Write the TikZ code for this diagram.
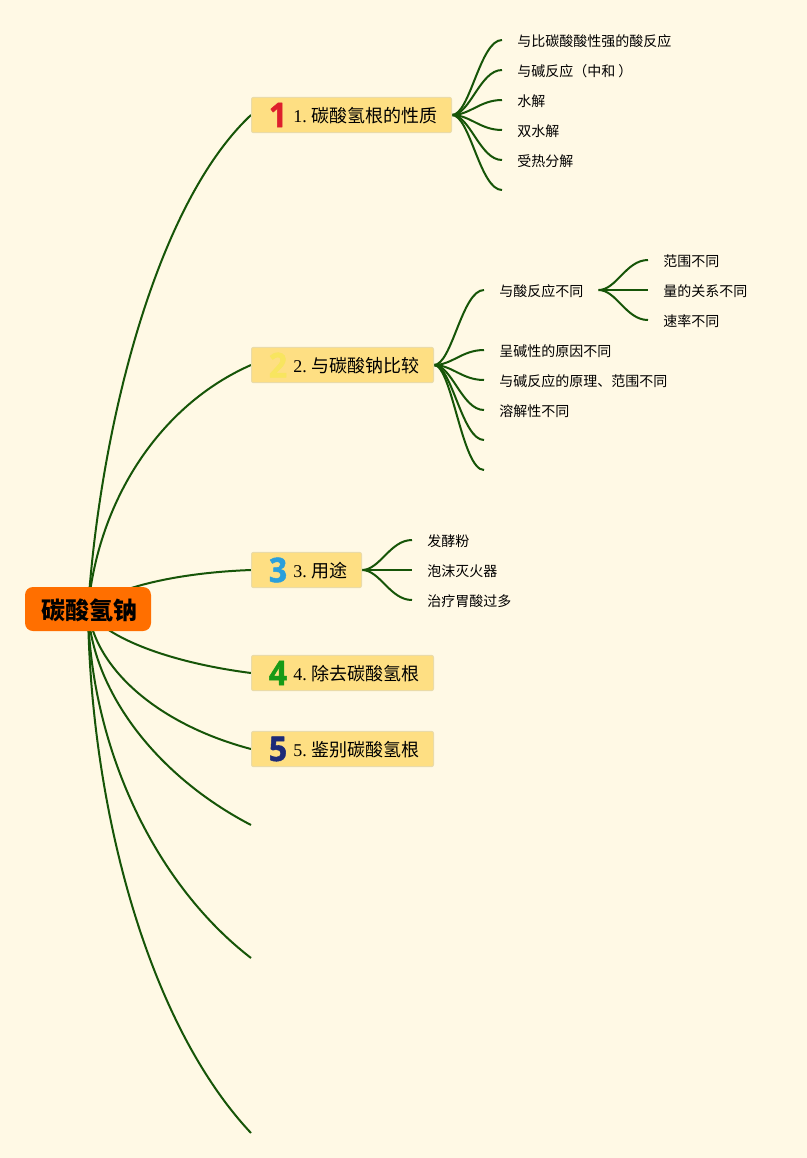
\documentclass[tikz,border=0pt]{standalone}
\usepackage{fontspec}
\setmainfont{Liberation Serif}
\newfontfamily\cjk{Noto Sans CJK SC}
\newfontfamily\numfont[FakeStretch=0.94,BoldFeatures={FakeBold=1.5}]{Open Sans}
\usepackage{tikz}
\usetikzlibrary{backgrounds}
\definecolor{paper}{HTML}{FFF9E5}
\definecolor{limbgreen}{HTML}{165508}
\definecolor{rootorange}{HTML}{FF6F00}
\definecolor{topicfill}{HTML}{FEDF83}
\definecolor{topicedge}{HTML}{EADBA8}
\definecolor{numred}{HTML}{DE1F2C}
\definecolor{numyellow}{HTML}{F8E55F}
\definecolor{numblue}{HTML}{2A9FDC}
\definecolor{numgreen}{HTML}{179A16}
\definecolor{numnavy}{HTML}{1C2A78}
\tikzset{
  limb/.style={draw=limbgreen,line width=1.5pt},
  rootbox/.style={fill=rootorange,rounded corners=6pt,minimum width=94.5pt,minimum height=33pt,inner sep=0pt,text height=16pt,text depth=0pt,font=\cjk\bfseries\fontsize{18}{20}\selectfont},
  topicbox/.style={anchor=west,fill=topicfill,draw=topicedge,line width=0.75pt,rounded corners=1.5pt,minimum height=26.5pt,inner sep=0pt},
  topictext/.style={anchor=west,inner sep=0pt,font=\fontsize{13.5}{16}\selectfont},
  numicon/.style={inner sep=0pt,font=\numfont\bfseries\fontsize{25.5}{28}\selectfont},
  leaf/.style={anchor=west,inner ysep=0pt,inner xsep=11.25pt,text height=10.5pt,text depth=1pt,font=\cjk\fontsize{10.5}{13}\selectfont}
}
\begin{document}
\begin{tikzpicture}[x=0.75pt,y=-0.75pt,line join=round]
\useasboundingbox (0,0) rectangle (807,1158);
% --- root and main topics
\node[rootbox] (root) at (88,609) {\kern2pt 碳酸氢钠};
\node[topicbox,minimum width=150pt] (topicA) at (251,115) {};
\node[numicon,numred] (numA) at (278,115) {1};
\node[topictext] (textA) at (293,116) {1.\kern.4pt\ {\cjk 碳酸氢根的性质}};
\node[topicbox,minimum width=136.5pt] (topicB) at (251,365) {};
\node[numicon,numyellow] (numB) at (278,365) {2};
\node[topictext] (textB) at (293,366) {2.\kern.4pt\ {\cjk 与碳酸钠比较}};
\node[topicbox,minimum width=82.5pt] (topicC) at (251,570) {};
\node[numicon,numblue] (numC) at (278,570) {3};
\node[topictext] (textC) at (293,571) {3.\kern.4pt\ {\cjk 用途}};
\node[topicbox,minimum width=136.5pt] (topicD) at (251,673) {};
\node[numicon,numgreen] (numD) at (278,673) {4};
\node[topictext] (textD) at (293,674) {4.\kern.4pt\ {\cjk 除去碳酸氢根}};
\node[topicbox,minimum width=136.5pt] (topicE) at (251,749) {};
\node[numicon,numnavy] (numE) at (278,749) {5};
\node[topictext] (textE) at (293,750) {5.\kern.4pt\ {\cjk 鉴别碳酸氢根}};
% --- free ends of the empty branches
\coordinate (rootF) at (251,825);
\coordinate (rootG) at (251,958);
\coordinate (rootH) at (251,1133);
\coordinate (stubA) at (502,190);
\coordinate (stubB) at (484,440);
\coordinate (stubC) at (484,470);
% --- topic 1
\node[leaf] (a1) at (502,40) {与比碳酸酸性强的酸反应};
\node[leaf] (a2) at (502,70) {与碱反应（中和 ）};
\node[leaf] (a3) at (502,100) {水解};
\node[leaf] (a4) at (502,130) {双水解};
\node[leaf] (a5) at (502,160) {受热分解};
% --- topic 2
\node[leaf] (b1) at (484,290) {与酸反应不同};
\node[leaf] (b2) at (484,350) {呈碱性的原因不同};
\node[leaf] (b3) at (484,380) {与碱反应的原理、范围不同};
\node[leaf] (b4) at (484,410) {溶解性不同};
\node[leaf] (b11) at (648,260) {范围不同};
\node[leaf] (b12) at (648,290) {量的关系不同};
\node[leaf] (b13) at (648,320) {速率不同};
% --- topic 3
\node[leaf] (c1) at (412,540) {发酵粉};
\node[leaf] (c2) at (412,570) {泡沫灭火器};
\node[leaf] (c3) at (412,600) {治疗胃酸过多};
\begin{scope}[on background layer]
\fill[paper] (0,0) rectangle (807,1158);
% --- from the root
\draw[limb] (root.center) .. controls (100,430) and (155,205) .. (topicA.west);
\draw[limb] (root.center) .. controls (98,500) and (160,405) .. (topicB.west);
\draw[limb] (root.center) .. controls (110,590) and (170,573) .. (topicC.west);
\draw[limb] (root.center) .. controls (100,635) and (165,662) .. (topicD.west);
\draw[limb] (root.center) .. controls (95,670) and (160,725) .. (topicE.west);
\draw[limb] (root.center) .. controls (92,690) and (155,775) .. (rootF);
\draw[limb] (root.center) .. controls (90,740) and (150,880) .. (rootG);
\draw[limb] (root.center) .. controls (90,800) and (145,1020) .. (rootH);
% --- fans
\draw[limb] (topicA.east) .. controls +(18,0) and +(-22,0) .. (a1.west);
\draw[limb] (topicA.east) .. controls +(18,0) and +(-22,0) .. (a2.west);
\draw[limb] (topicA.east) .. controls +(18,0) and +(-22,0) .. (a3.west);
\draw[limb] (topicA.east) .. controls +(18,0) and +(-22,0) .. (a4.west);
\draw[limb] (topicA.east) .. controls +(18,0) and +(-22,0) .. (a5.west);
\draw[limb] (topicA.east) .. controls +(18,0) and +(-22,0) .. (stubA);
\draw[limb] (topicB.east) .. controls +(18,0) and +(-22,0) .. (b1.west);
\draw[limb] (topicB.east) .. controls +(18,0) and +(-22,0) .. (b2.west);
\draw[limb] (topicB.east) .. controls +(18,0) and +(-22,0) .. (b3.west);
\draw[limb] (topicB.east) .. controls +(18,0) and +(-22,0) .. (b4.west);
\draw[limb] (topicB.east) .. controls +(18,0) and +(-22,0) .. (stubB);
\draw[limb] (topicB.east) .. controls +(18,0) and +(-22,0) .. (stubC);
\draw[limb] (topicC.east) .. controls +(18,0) and +(-22,0) .. (c1.west);
\draw[limb] (topicC.east) -- (c2.west);
\draw[limb] (topicC.east) .. controls +(18,0) and +(-22,0) .. (c3.west);
\draw[limb] (b1.east) .. controls +(18,0) and +(-22,0) .. (b11.west);
\draw[limb] (b1.east) -- (b12.west);
\draw[limb] (b1.east) .. controls +(18,0) and +(-22,0) .. (b13.west);
\end{scope}
\end{tikzpicture}
\end{document}
